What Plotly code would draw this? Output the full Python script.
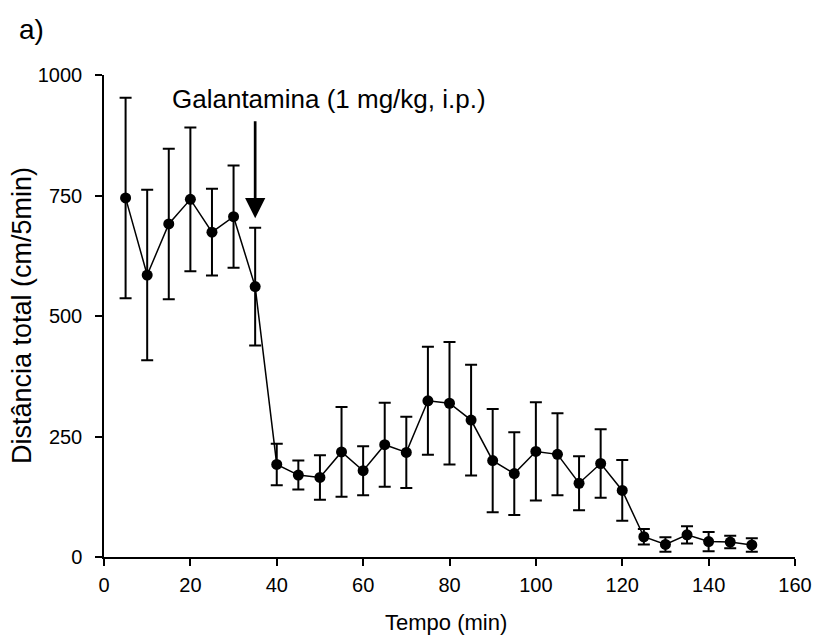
import plotly.graph_objects as go

# Tempo (min) e distância total média ± EPM
tempo = [5, 10, 15, 20, 25, 30, 35, 40, 45, 50, 55, 60, 65, 70, 75,
         80, 85, 90, 95, 100, 105, 110, 115, 120, 125, 130, 135, 140, 145, 150]
distancia = [745, 585, 691, 742, 674, 706, 561, 192, 170, 165, 218, 179, 233, 217, 324,
             319, 284, 200, 173, 219, 213, 153, 194, 138, 42, 26, 46, 32, 31, 25]
epm = [208, 177, 156, 149, 90, 106, 122, 43, 30, 46, 93, 51, 87, 74, 112,
       127, 115, 107, 86, 102, 85, 56, 71, 63, 16, 15, 18, 20, 13, 14]

x_ticks = [0, 20, 40, 60, 80, 100, 120, 140, 160]
y_ticks = [0, 250, 500, 750, 1000]

injecao_t = 35
injecao_texto = "Galantamina (1 mg/kg, i.p.)"

FONT = "Liberation Sans, Arial, sans-serif"

fig = go.Figure()
fig.add_trace(go.Scatter(
    x=tempo, y=distancia,
    mode="lines+markers",
    line=dict(color="black", width=1.5),
    marker=dict(color="black", size=11, symbol="circle"),
    error_y=dict(type="data", array=epm, visible=True,
                 color="black", thickness=2, width=6),
    showlegend=False,
))

# Seta indicando a administração do fármaco
fig.add_annotation(
    x=injecao_t, y=703, xref="x", yref="y",
    ax=injecao_t, ay=907, axref="x", ayref="y",
    showarrow=True, arrowhead=2, arrowsize=1.5, arrowwidth=2.7,
    arrowcolor="black", text="",
)
fig.add_annotation(
    x=52, y=951, xref="x", yref="y",
    text=injecao_texto, showarrow=False,
    xanchor="center", yanchor="middle",
    font=dict(family=FONT, size=26, color="black"),
)

# Rótulo do painel e títulos dos eixos (em pixels relativos à área do gráfico)
fig.add_annotation(
    x=-87 / 691, y=1 + 45 / 482, xref="paper", yref="paper",
    text="a)", showarrow=False, xanchor="left", yanchor="middle",
    font=dict(family=FONT, size=28, color="black"),
)
fig.add_annotation(
    x=0.5 - 4 / 691, y=-65 / 482, xref="paper", yref="paper",
    text="Tempo (min)", showarrow=False, xanchor="center", yanchor="middle",
    font=dict(family=FONT, size=22, color="black"),
)
fig.add_annotation(
    x=-82 / 691, y=0.5, xref="paper", yref="paper",
    text="Distância total (cm/5min)", showarrow=False, textangle=-90,
    xanchor="center", yanchor="middle",
    font=dict(family=FONT, size=27, color="black"),
)

axis_common = dict(
    showgrid=False, zeroline=False, showline=True,
    linecolor="black", linewidth=1.5,
    ticks="outside", ticklen=7, tickwidth=1.5, tickcolor="black",
    tickfont=dict(family=FONT, size=20, color="black"),
    automargin=False,
)

fig.update_xaxes(range=[0, 160], tickvals=x_ticks, ticklabelstandoff=2, **axis_common)
fig.update_yaxes(range=[0, 1000], tickvals=y_ticks, ticklabelstandoff=9, **axis_common)

fig.update_layout(
    width=819, height=637,
    margin=dict(l=104, r=24, t=75, b=80),
    paper_bgcolor="white", plot_bgcolor="white",
)

fig.write_html("out.html")
